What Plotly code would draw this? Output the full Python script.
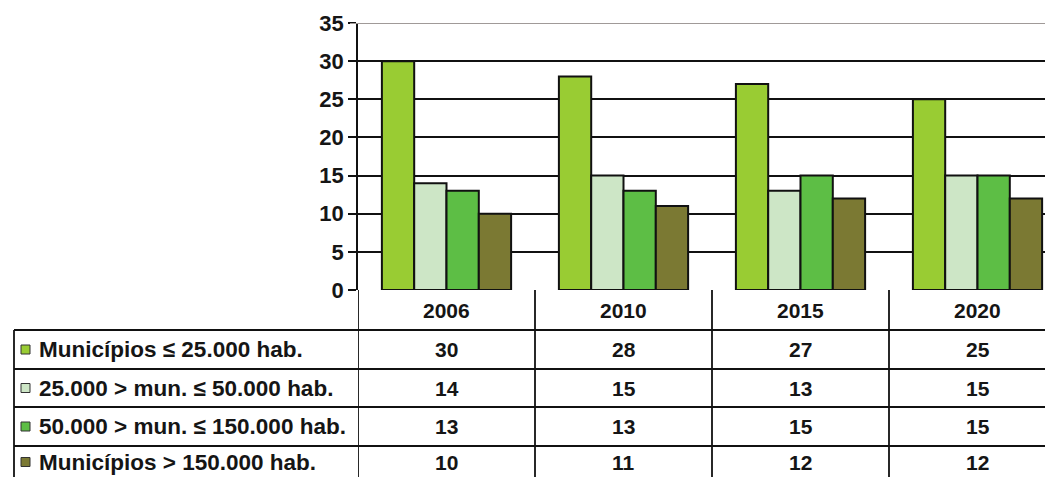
import plotly.graph_objects as go

# ---- data ----
years = ["2006", "2010", "2015", "2020"]
series_names = [
    "Municípios ≤ 25.000 hab.",
    "25.000 > mun. ≤ 50.000 hab.",
    "50.000 > mun. ≤ 150.000 hab.",
    "Municípios > 150.000 hab.",
]
mun_le_25k = [30, 28, 27, 25]
mun_25k_50k = [14, 15, 13, 15]
mun_50k_150k = [13, 13, 15, 15]
mun_gt_150k = [10, 11, 12, 12]
series_values = [mun_le_25k, mun_25k_50k, mun_50k_150k, mun_gt_150k]
colors = ["#99CC33", "#CDE6C6", "#5DBE45", "#7B7933"]
y_ticks = [0, 5, 10, 15, 20, 25, 30, 35]

# ---- layout geometry (screen pixels; page body has an 8px margin) ----
OFF = 8
W, H = 1053 - OFF, 477 - OFF
L = 358 - OFF
T = 23 - OFF
R = 0
B = H - (290 - OFF)
plot_w = W - L - R
plot_h = H - T - B
y0_screen = 290


def py(screen_y):
    return (y0_screen - screen_y) / plot_h


def px(screen_x):
    return (screen_x - 358) / plot_w


cat_px = 177.0
x_range = [-0.5, -0.5 + plot_w / cat_px]
xpos = list(range(len(years)))

FONT = "Liberation Sans, Arial, sans-serif"
TXT = "#151515"

fig = go.Figure()
for name, vals, col in zip(series_names, series_values, colors):
    fig.add_trace(go.Bar(
        x=xpos, y=vals, name=name,
        marker=dict(color=col, line=dict(color="#111111", width=2)),
        showlegend=False, hoverinfo="skip",
    ))

shapes = []
annotations = []

# top gridline (gray)
shapes.append(dict(type="line", xref="paper", yref="y", x0=px(350), x1=1, y0=35, y1=35,
                   line=dict(color="#A09A98", width=2), layer="above"))

# table: vertical lines
row_lines = [330, 369, 407, 446]
bottom = 480
for k in range(len(years) + 1):
    shapes.append(dict(type="line", xref="x", yref="paper", x0=k - 0.5, x1=k - 0.5,
                       y0=0, y1=py(bottom), line=dict(color="#111111", width=1.8)))
# left border
shapes.append(dict(type="line", xref="paper", yref="paper", x0=px(14), x1=px(14),
                   y0=py(row_lines[0]), y1=py(bottom), line=dict(color="#111111", width=1.8)))
# horizontal lines
for ry in row_lines:
    shapes.append(dict(type="line", xref="paper", yref="paper", x0=px(14), x1=1,
                       y0=py(ry), y1=py(ry), line=dict(color="#111111", width=1.8)))

# header (years)
for j, yr in enumerate(years):
    annotations.append(dict(x=j, y=py(310), xref="x", yref="paper", text=f"<b>{yr}</b>",
                            showarrow=False, xanchor="center", yanchor="middle",
                            font=dict(family=FONT, size=21, color=TXT)))

row_centers = [349.5, 388, 426.5, 462]
for i, (name, vals, col) in enumerate(zip(series_names, series_values, colors)):
    cy = row_centers[i]
    # legend square
    shapes.append(dict(type="rect", xref="paper", yref="paper",
                       x0=px(21), x1=px(30), y0=py(cy - 4.5), y1=py(cy + 4.5),
                       fillcolor=col, line=dict(color="#333333", width=1)))
    annotations.append(dict(x=px(37), y=py(cy), xref="paper", yref="paper",
                            text=f"<b>{name}</b>", showarrow=False,
                            xanchor="left", yanchor="middle",
                            font=dict(family=FONT, size=22.5, color=TXT)))
    for j, v in enumerate(vals):
        annotations.append(dict(x=j, y=py(cy), xref="x", yref="paper", text=f"<b>{v}</b>",
                                showarrow=False, xanchor="center", yanchor="middle",
                                font=dict(family=FONT, size=21, color=TXT)))

fig.update_layout(
    width=W, height=H,
    margin=dict(l=L, r=R, t=T, b=B, pad=0),
    paper_bgcolor="white", plot_bgcolor="white",
    barmode="group", bargap=0.27, bargroupgap=0,
    showlegend=False,
    shapes=shapes, annotations=annotations,
    xaxis=dict(range=x_range, showticklabels=False, showgrid=False, zeroline=False,
               showline=False, ticks="", fixedrange=True),
    yaxis=dict(range=[0, 35], tickvals=y_ticks, showgrid=True, gridcolor="#111111",
               gridwidth=1.8, zeroline=False, showline=True, linecolor="#111111",
               linewidth=1.8, ticks="outside", ticklen=8, tickwidth=1.8,
               tickcolor="#111111",
               tickfont=dict(family=FONT, size=22, color=TXT, weight="bold"),
               fixedrange=True),
)

fig.write_html("out.html")
